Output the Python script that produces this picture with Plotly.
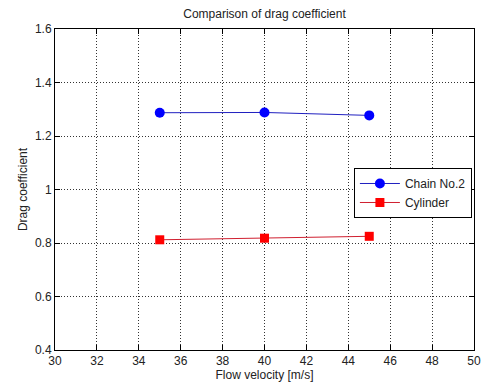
import plotly.graph_objects as go

velocity = [35, 40, 45]
chain_no2 = [1.287, 1.288, 1.277]
cylinder = [0.812, 0.818, 0.825]
x_ticks = list(range(30, 51, 2))
y_ticks = [0.4, 0.6, 0.8, 1.0, 1.2, 1.4, 1.6]
y_labels = ["0.4", "0.6", "0.8", "1", "1.2", "1.4", "1.6"]

fig = go.Figure()
fig.add_trace(go.Scatter(x=velocity, y=chain_no2, mode="lines+markers", name="Chain No.2",
                         line=dict(color="#2020c0", width=1),
                         marker=dict(symbol="circle", size=10, color="#0000ff")))
fig.add_trace(go.Scatter(x=velocity, y=cylinder, mode="lines+markers", name="Cylinder",
                         line=dict(color="#d02030", width=1),
                         marker=dict(symbol="square", size=9, color="#ff0000")))

axis_common = dict(showline=True, linecolor="black", linewidth=1, mirror="ticks",
                   ticks="inside", ticklen=5, tickcolor="black",
                   showgrid=True, gridcolor="#333", griddash="1px,2px", gridwidth=1,
                   zeroline=False, automargin=False, tickfont=dict(size=12, color="#222"))

fig.update_xaxes(range=[30, 50], tickvals=x_ticks,
                 title=dict(text="Flow velocity [m/s]", font=dict(size=12, color="#222"), standoff=2),
                 **axis_common)
fig.update_yaxes(range=[0.4, 1.6], tickvals=y_ticks, ticktext=y_labels,
                 title=dict(text="Drag coefficient", font=dict(size=12, color="#222"), standoff=4),
                 **axis_common)

fig.update_layout(
    width=483, height=383,
    margin=dict(l=55, r=9, t=29, b=33),
    paper_bgcolor="white", plot_bgcolor="white",
    font=dict(family="Liberation Sans, Arial, sans-serif", size=12, color="#222"),
    title=dict(text="Comparison of drag coefficient", x=0.5, xref="paper", xanchor="center",
               y=1 - 14 / 383, yanchor="middle", font=dict(size=12, color="#222")),
    legend=dict(x=0.995, y=0.567, xanchor="right", yanchor="top",
                bordercolor="black", borderwidth=1, bgcolor="white",
                font=dict(size=12), itemwidth=40, tracegroupgap=0),
    showlegend=True,
)

fig.write_html("out.html")
